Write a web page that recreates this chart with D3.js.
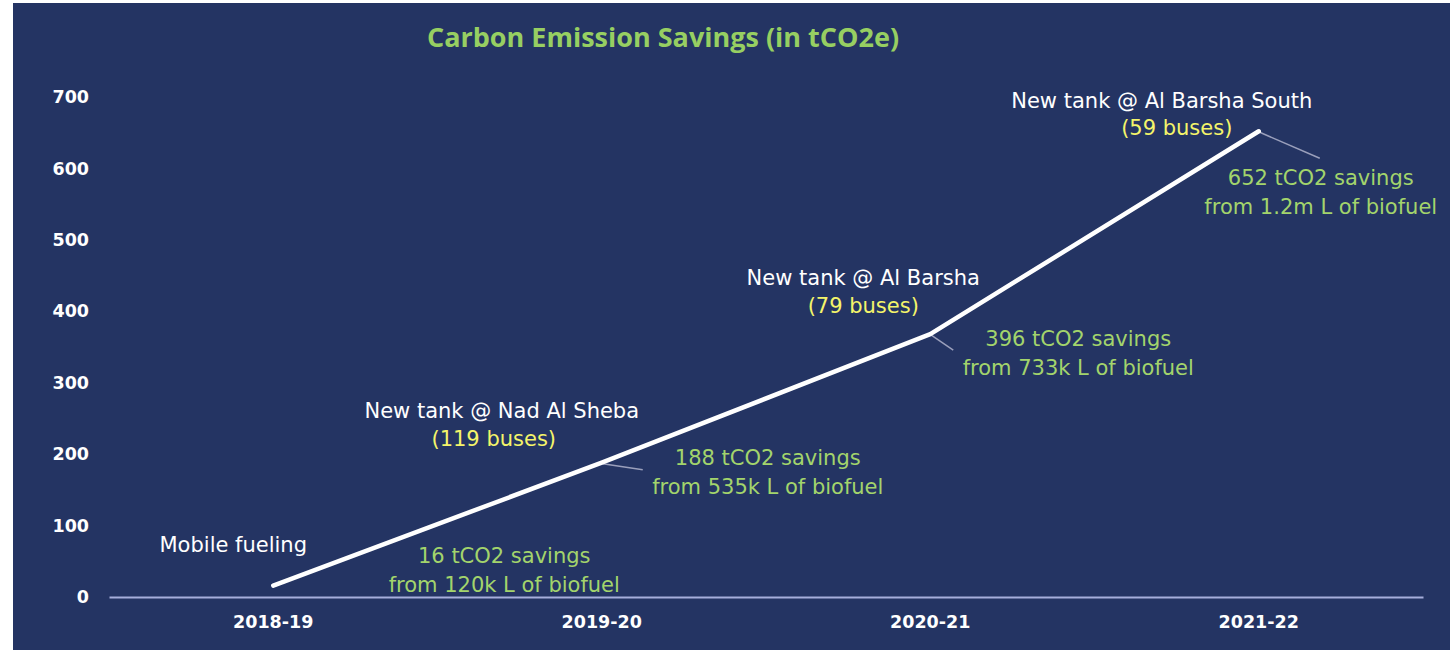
<!DOCTYPE html>
<html>
<head>
<meta charset="utf-8">
<script src="https://cdn.jsdelivr.net/npm/d3@7"></script>
<style>
  html, body { margin: 0; padding: 0; background: #ffffff; }
  svg { display: block; }
</style>
</head>
<body>
<svg id="chart" width="1455" height="652"></svg>
<script>
// ---- data ----
const categories = ["2018-19", "2019-20", "2020-21", "2021-22"];
const savings = [16, 188, 368, 652];
const yTicks = [0, 100, 200, 300, 400, 500, 600, 700];
const titleText = "Carbon Emission Savings (in tCO2e)";
const siteLabels = ["Mobile fueling", "New tank @ Nad Al Sheba", "New tank @ Al Barsha", "New tank @ Al Barsha South"];
const busLabels = ["", "(119 buses)", "(79 buses)", "(59 buses)"];
const savingsLine1 = ["16 tCO2 savings", "188 tCO2 savings", "396 tCO2 savings", "652 tCO2 savings"];
const savingsLine2 = ["from 120k L of biofuel", "from 535k L of biofuel", "from 733k L of biofuel", "from 1.2m L of biofuel"];

// ---- layout (offsets relative to each data point) ----
const siteOffset = [[-40, -34], [-100, -45], [-67, -49], [-97, -23]];
const busOffset = [[0, 0], [-108, -17], [-67, -21], [-82, 4]];
const savOffset = [[231, -23], [166, 2], [148, 12], [62, 54]];
const leaderEnd = [null, [41, 7], [23, 16], [61, 27]];

const svg = d3.select("#chart");

// background panel
svg.append("rect").attr("x", 13).attr("y", 3).attr("width", 1437).attr("height", 647)
  .attr("fill", "#243463");

const x = d3.scaleBand().domain(categories).range([109, 1423]).padding(0);
const y = d3.scaleLinear().domain([0, 700]).range([597, 97]);
const px = i => x(categories[i]) + x.bandwidth() / 2;
const py = i => y(savings[i]);

// title
svg.append("text").attr("x", 663).attr("y", 47).attr("text-anchor", "middle")
  .attr("font-family", "'Open Sans', Lato, sans-serif").attr("font-weight", 700)
  .attr("font-size", 27).attr("fill", "#97cf62").text(titleText);

// y axis
const yAxis = svg.append("g").attr("transform", "translate(89,0)")
  .call(d3.axisLeft(y).tickValues(yTicks).tickSize(0).tickPadding(0).tickFormat(d3.format("d")));
yAxis.select(".domain").remove();
yAxis.selectAll("text").attr("font-family", "'DejaVu Sans', sans-serif").attr("font-weight", "bold")
  .attr("font-size", 17.5).attr("fill", "#ffffff");

// x axis
const xAxis = svg.append("g").attr("transform", "translate(0,597)")
  .call(d3.axisBottom(x).tickSize(0).tickPadding(19));
xAxis.select(".domain").attr("stroke", "#a6aedb").attr("stroke-width", 2);
xAxis.selectAll("text").attr("font-family", "'DejaVu Sans', sans-serif").attr("font-weight", "bold")
  .attr("font-size", 17.5).attr("fill", "#ffffff");

// leader lines
const leaders = d3.range(categories.length).filter(i => leaderEnd[i]);
svg.append("g").selectAll("line").data(leaders).join("line")
  .attr("x1", i => px(i) + 1).attr("y1", i => py(i) + 1)
  .attr("x2", i => px(i) + leaderEnd[i][0]).attr("y2", i => py(i) + leaderEnd[i][1])
  .attr("stroke", "#9a9fbb").attr("stroke-width", 1.5);

// main line
const line = d3.line().x((d, i) => px(i)).y(d => y(d));
svg.append("path").datum(savings).attr("d", line)
  .attr("fill", "none").attr("stroke", "#ffffff").attr("stroke-width", 4.5)
  .attr("stroke-linecap", "round").attr("stroke-linejoin", "round");

// annotations
const ann = svg.append("g").attr("font-family", "'DejaVu Sans', sans-serif").attr("font-size", 21)
  .attr("text-anchor", "middle");
categories.forEach((c, i) => {
  ann.append("text").attr("x", px(i) + siteOffset[i][0]).attr("y", py(i) + siteOffset[i][1])
    .attr("fill", "#ffffff").text(siteLabels[i]);
  if (busLabels[i]) {
    ann.append("text").attr("x", px(i) + busOffset[i][0]).attr("y", py(i) + busOffset[i][1])
      .attr("fill", "#f4f46a").text(busLabels[i]);
  }
  const t = ann.append("text").attr("fill", "#a3d46c");
  t.append("tspan").attr("x", px(i) + savOffset[i][0]).attr("y", py(i) + savOffset[i][1]).text(savingsLine1[i]);
  t.append("tspan").attr("x", px(i) + savOffset[i][0]).attr("y", py(i) + savOffset[i][1] + 29).text(savingsLine2[i]);
});
</script>
</body>
</html>
